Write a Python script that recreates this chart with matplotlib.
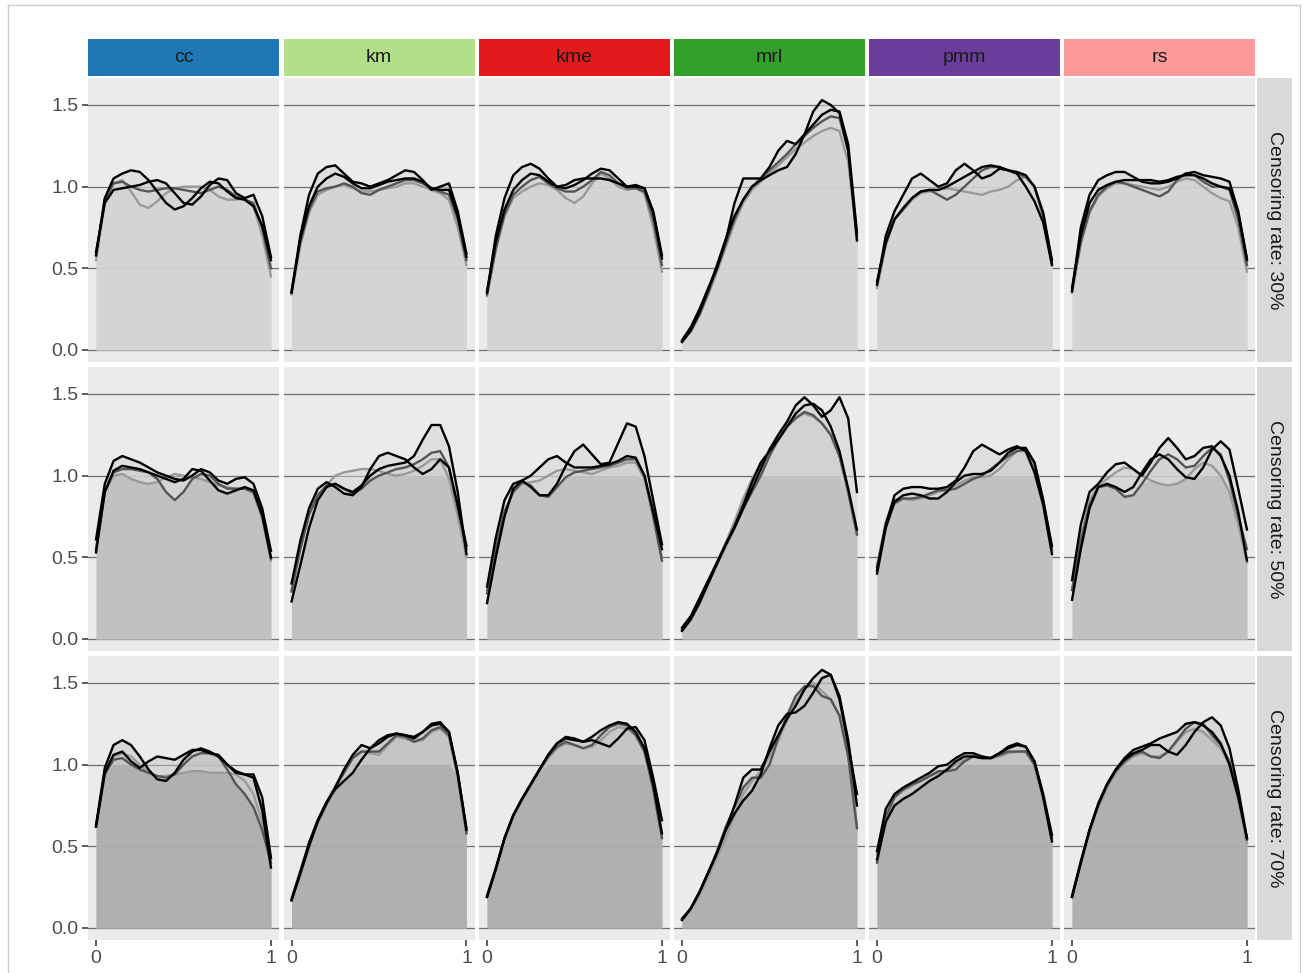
import matplotlib
matplotlib.use("Agg")
import matplotlib.pyplot as plt
from matplotlib.lines import Line2D
from matplotlib.patches import Rectangle
import numpy as np

plt.rcParams['font.family'] = ['Liberation Sans', 'DejaVu Sans']

# x grid where the density curves were read
x_grid = [0.00, 0.05, 0.10, 0.15, 0.20, 0.25, 0.30, 0.35, 0.40, 0.45, 0.50,
          0.55, 0.60, 0.65, 0.70, 0.75, 0.80, 0.85, 0.90, 0.95, 1.00]

methods = ['cc', 'km', 'kme', 'mrl', 'pmm', 'rs']
rates = ['Censoring rate: 30%', 'Censoring rate: 50%', 'Censoring rate: 70%']
strip_colors = ['#1f78b4', '#b2df8a', '#e31a1c', '#33a02c', '#6a3d9a', '#fb9a99']
line_colors = ['#000000', '#000000', '#555555', '#9a9a9a']

# ---- censoring rate 30% ----
cc_30 = [[0.58, 0.93, 1.05, 1.08, 1.10, 1.09, 1.04, 0.97, 0.90, 0.86, 0.88, 0.93, 0.99, 1.03, 1.02, 0.97, 0.93, 0.92, 0.88, 0.76, 0.55],
         [0.60, 0.90, 0.98, 0.99, 1.00, 1.01, 1.03, 1.04, 1.02, 0.96, 0.90, 0.89, 0.94, 1.01, 1.05, 1.04, 0.96, 0.93, 0.95, 0.82, 0.57],
         [0.58, 0.92, 1.02, 1.03, 1.00, 0.98, 0.97, 0.98, 0.99, 0.99, 0.98, 0.97, 0.96, 0.98, 1.00, 0.98, 0.94, 0.92, 0.90, 0.75, 0.50],
         [0.55, 0.90, 1.02, 1.04, 0.97, 0.89, 0.87, 0.91, 0.96, 0.99, 1.00, 1.00, 1.00, 0.98, 0.94, 0.92, 0.92, 0.93, 0.88, 0.70, 0.45]]
km_30 = [[0.35, 0.70, 0.95, 1.08, 1.12, 1.13, 1.08, 1.03, 1.02, 1.00, 1.02, 1.04, 1.07, 1.10, 1.09, 1.04, 0.98, 1.00, 1.02, 0.85, 0.59],
         [0.36, 0.68, 0.88, 1.00, 1.05, 1.08, 1.06, 1.02, 0.99, 0.99, 1.01, 1.03, 1.04, 1.05, 1.05, 1.03, 0.99, 0.98, 0.98, 0.82, 0.57],
         [0.35, 0.66, 0.86, 0.97, 0.99, 1.00, 1.02, 1.00, 0.96, 0.95, 0.98, 1.00, 1.02, 1.04, 1.04, 1.02, 0.99, 0.97, 0.95, 0.80, 0.55],
         [0.34, 0.64, 0.84, 0.95, 0.98, 1.00, 1.01, 0.99, 0.97, 0.97, 0.98, 0.99, 1.00, 1.02, 1.02, 1.00, 0.98, 0.96, 0.92, 0.75, 0.52]]
kme_30 = [[0.35, 0.70, 0.93, 1.07, 1.12, 1.14, 1.11, 1.05, 1.00, 0.99, 1.01, 1.04, 1.08, 1.11, 1.10, 1.05, 1.00, 1.00, 0.99, 0.85, 0.58],
          [0.36, 0.66, 0.86, 0.98, 1.04, 1.08, 1.07, 1.03, 1.00, 1.01, 1.04, 1.05, 1.05, 1.05, 1.04, 1.02, 1.00, 1.01, 0.99, 0.84, 0.56],
          [0.34, 0.62, 0.83, 0.95, 1.00, 1.04, 1.06, 1.02, 0.99, 0.97, 0.97, 1.00, 1.04, 1.09, 1.07, 1.02, 0.99, 0.99, 0.97, 0.80, 0.52],
          [0.33, 0.62, 0.82, 0.93, 0.97, 1.00, 1.02, 1.01, 0.98, 0.93, 0.90, 0.94, 1.02, 1.08, 1.05, 1.00, 0.98, 0.99, 0.96, 0.75, 0.48]]
mrl_30 = [[0.06, 0.14, 0.25, 0.38, 0.50, 0.67, 0.90, 1.05, 1.05, 1.05, 1.12, 1.22, 1.28, 1.26, 1.32, 1.46, 1.53, 1.50, 1.45, 1.22, 0.67],
          [0.05, 0.12, 0.23, 0.37, 0.52, 0.68, 0.82, 0.92, 1.00, 1.04, 1.07, 1.10, 1.12, 1.20, 1.32, 1.38, 1.44, 1.47, 1.46, 1.26, 0.72],
          [0.05, 0.12, 0.22, 0.35, 0.50, 0.65, 0.80, 0.92, 1.00, 1.05, 1.10, 1.15, 1.20, 1.26, 1.31, 1.36, 1.40, 1.43, 1.42, 1.22, 0.70],
          [0.05, 0.11, 0.21, 0.34, 0.48, 0.63, 0.78, 0.90, 0.98, 1.03, 1.08, 1.13, 1.18, 1.23, 1.27, 1.31, 1.34, 1.36, 1.34, 1.15, 0.68]]
pmm_30 = [[0.40, 0.70, 0.85, 0.95, 1.05, 1.08, 1.04, 1.00, 1.02, 1.10, 1.14, 1.10, 1.05, 1.07, 1.11, 1.10, 1.08, 1.00, 0.91, 0.78, 0.52],
          [0.42, 0.66, 0.80, 0.87, 0.93, 0.97, 0.98, 0.98, 1.00, 1.03, 1.06, 1.09, 1.12, 1.13, 1.12, 1.10, 1.09, 1.07, 1.00, 0.84, 0.55],
          [0.40, 0.65, 0.80, 0.86, 0.93, 0.97, 0.98, 0.95, 0.92, 0.95, 1.00, 1.05, 1.10, 1.12, 1.12, 1.10, 1.08, 1.06, 1.00, 0.82, 0.53],
          [0.38, 0.64, 0.80, 0.86, 0.92, 0.96, 0.97, 0.98, 0.99, 0.98, 0.97, 0.96, 0.95, 0.97, 0.98, 1.00, 1.04, 1.06, 1.00, 0.82, 0.52]]
rs_30 = [[0.36, 0.75, 0.95, 1.04, 1.07, 1.09, 1.09, 1.06, 1.03, 1.02, 1.02, 1.03, 1.05, 1.08, 1.09, 1.07, 1.06, 1.05, 1.03, 0.85, 0.56],
         [0.38, 0.70, 0.90, 0.98, 1.01, 1.03, 1.04, 1.04, 1.04, 1.04, 1.03, 1.04, 1.06, 1.07, 1.07, 1.05, 1.02, 1.00, 0.99, 0.84, 0.55],
         [0.36, 0.66, 0.85, 0.95, 1.00, 1.03, 1.02, 1.00, 0.98, 0.96, 0.94, 0.97, 1.04, 1.08, 1.07, 1.03, 1.00, 1.00, 0.98, 0.80, 0.52],
         [0.35, 0.65, 0.84, 0.94, 0.99, 1.02, 1.02, 1.01, 1.00, 0.99, 0.98, 1.00, 1.03, 1.05, 1.04, 1.00, 0.96, 0.93, 0.91, 0.75, 0.48]]

# ---- censoring rate 50% ----
cc_50 = [[0.61, 0.95, 1.09, 1.12, 1.10, 1.08, 1.05, 1.02, 1.00, 0.98, 0.97, 1.00, 1.04, 1.02, 0.97, 0.95, 0.98, 0.99, 0.95, 0.80, 0.54],
         [0.53, 0.90, 1.03, 1.06, 1.05, 1.04, 1.02, 1.00, 0.98, 0.96, 0.98, 1.04, 1.03, 0.97, 0.91, 0.89, 0.91, 0.93, 0.91, 0.76, 0.50],
         [0.55, 0.90, 1.02, 1.04, 1.04, 1.03, 1.02, 0.98, 0.90, 0.85, 0.90, 0.98, 1.01, 1.00, 0.95, 0.92, 0.92, 0.92, 0.90, 0.75, 0.49],
         [0.55, 0.90, 1.00, 1.01, 0.98, 0.96, 0.95, 0.96, 0.99, 1.01, 1.00, 0.99, 0.98, 0.96, 0.94, 0.93, 0.92, 0.92, 0.89, 0.74, 0.48]]
km_50 = [[0.23, 0.45, 0.68, 0.85, 0.93, 0.95, 0.92, 0.90, 0.94, 1.00, 1.04, 1.06, 1.07, 1.08, 1.12, 1.22, 1.31, 1.31, 1.18, 0.90, 0.52],
         [0.34, 0.60, 0.80, 0.92, 0.96, 0.93, 0.89, 0.88, 0.93, 1.04, 1.12, 1.14, 1.12, 1.10, 1.05, 1.01, 1.04, 1.10, 1.05, 0.82, 0.57],
         [0.29, 0.55, 0.76, 0.88, 0.94, 0.95, 0.92, 0.89, 0.92, 0.97, 1.00, 1.02, 1.04, 1.05, 1.07, 1.10, 1.14, 1.15, 1.05, 0.80, 0.55],
         [0.30, 0.55, 0.77, 0.88, 0.94, 1.00, 1.02, 1.03, 1.04, 1.04, 1.03, 1.01, 1.00, 1.01, 1.03, 1.06, 1.10, 1.10, 0.98, 0.75, 0.50]]
kme_50 = [[0.22, 0.50, 0.75, 0.92, 0.97, 0.93, 0.88, 0.88, 0.95, 1.06, 1.15, 1.19, 1.13, 1.07, 1.08, 1.20, 1.32, 1.30, 1.12, 0.85, 0.58],
          [0.32, 0.62, 0.85, 0.95, 0.97, 1.00, 1.05, 1.10, 1.12, 1.08, 1.05, 1.05, 1.05, 1.06, 1.07, 1.09, 1.12, 1.11, 1.00, 0.78, 0.55],
          [0.28, 0.55, 0.78, 0.90, 0.96, 0.94, 0.88, 0.87, 0.93, 0.99, 1.02, 1.03, 1.04, 1.05, 1.06, 1.08, 1.10, 1.10, 1.00, 0.75, 0.48],
          [0.30, 0.56, 0.78, 0.90, 0.95, 0.96, 0.97, 1.00, 1.03, 1.04, 1.03, 1.02, 1.01, 1.03, 1.05, 1.06, 1.08, 1.08, 0.98, 0.75, 0.50]]
mrl_50 = [[0.07, 0.14, 0.25, 0.36, 0.47, 0.58, 0.68, 0.80, 0.92, 1.04, 1.16, 1.25, 1.33, 1.43, 1.48, 1.43, 1.36, 1.40, 1.48, 1.35, 0.90],
          [0.05, 0.12, 0.22, 0.34, 0.46, 0.58, 0.69, 0.82, 0.96, 1.08, 1.15, 1.22, 1.30, 1.38, 1.43, 1.44, 1.40, 1.30, 1.15, 0.92, 0.67],
          [0.06, 0.13, 0.24, 0.35, 0.46, 0.57, 0.68, 0.80, 0.90, 1.00, 1.12, 1.22, 1.30, 1.35, 1.39, 1.37, 1.32, 1.25, 1.12, 0.90, 0.64],
          [0.05, 0.12, 0.23, 0.35, 0.47, 0.59, 0.72, 0.86, 0.98, 1.07, 1.14, 1.22, 1.30, 1.36, 1.38, 1.36, 1.32, 1.25, 1.12, 0.90, 0.64]]
pmm_50 = [[0.42, 0.70, 0.88, 0.92, 0.93, 0.93, 0.92, 0.92, 0.93, 0.97, 1.05, 1.15, 1.19, 1.16, 1.13, 1.16, 1.18, 1.15, 1.02, 0.82, 0.52],
          [0.40, 0.68, 0.84, 0.88, 0.89, 0.88, 0.86, 0.86, 0.90, 0.96, 1.00, 1.01, 1.01, 1.03, 1.08, 1.14, 1.17, 1.17, 1.08, 0.85, 0.57],
          [0.44, 0.70, 0.83, 0.86, 0.86, 0.87, 0.89, 0.91, 0.91, 0.92, 0.95, 0.98, 1.00, 1.04, 1.08, 1.12, 1.15, 1.16, 1.08, 0.85, 0.55],
          [0.45, 0.72, 0.85, 0.86, 0.85, 0.86, 0.88, 0.90, 0.92, 0.94, 0.97, 0.99, 0.99, 1.00, 1.04, 1.10, 1.15, 1.15, 1.06, 0.82, 0.53]]
rs_50 = [[0.24, 0.55, 0.80, 0.93, 0.95, 0.93, 0.90, 0.93, 1.02, 1.10, 1.13, 1.10, 1.04, 0.99, 0.98, 1.05, 1.16, 1.21, 1.16, 0.92, 0.67],
         [0.36, 0.70, 0.90, 0.95, 1.02, 1.07, 1.08, 1.04, 1.00, 1.08, 1.17, 1.23, 1.17, 1.10, 1.12, 1.17, 1.18, 1.12, 1.00, 0.78, 0.48],
         [0.30, 0.60, 0.82, 0.93, 0.94, 0.92, 0.87, 0.88, 0.95, 1.03, 1.10, 1.13, 1.10, 1.05, 1.06, 1.12, 1.17, 1.13, 0.97, 0.75, 0.55],
         [0.30, 0.62, 0.85, 0.94, 0.98, 1.02, 1.05, 1.04, 1.00, 0.97, 0.95, 0.94, 0.95, 0.98, 1.04, 1.08, 1.06, 1.00, 0.90, 0.70, 0.47]]

# ---- censoring rate 70% ----
cc_70 = [[0.63, 0.98, 1.12, 1.15, 1.12, 1.05, 0.97, 0.91, 0.90, 0.95, 1.03, 1.08, 1.10, 1.08, 1.05, 1.00, 0.96, 0.94, 0.92, 0.72, 0.37],
         [0.62, 0.95, 1.06, 1.08, 1.02, 0.98, 1.02, 1.05, 1.04, 1.03, 1.06, 1.09, 1.09, 1.07, 1.06, 1.00, 0.95, 0.94, 0.94, 0.80, 0.43],
         [0.62, 0.94, 1.03, 1.04, 1.00, 0.97, 0.95, 0.93, 0.92, 0.94, 1.00, 1.05, 1.07, 1.07, 1.05, 0.97, 0.88, 0.82, 0.74, 0.60, 0.40],
         [0.62, 0.95, 1.05, 1.07, 1.05, 1.00, 0.95, 0.93, 0.93, 0.94, 0.95, 0.96, 0.96, 0.95, 0.95, 0.95, 0.94, 0.90, 0.82, 0.65, 0.42]]
km_70 = [[0.17, 0.33, 0.50, 0.65, 0.76, 0.86, 0.97, 1.06, 1.12, 1.10, 1.13, 1.17, 1.19, 1.18, 1.16, 1.20, 1.25, 1.26, 1.20, 0.95, 0.61],
         [0.17, 0.34, 0.52, 0.66, 0.77, 0.85, 0.90, 0.95, 1.03, 1.10, 1.15, 1.18, 1.19, 1.18, 1.17, 1.20, 1.24, 1.25, 1.20, 0.95, 0.60],
         [0.18, 0.35, 0.52, 0.66, 0.77, 0.86, 0.95, 1.04, 1.08, 1.08, 1.08, 1.13, 1.18, 1.17, 1.14, 1.16, 1.21, 1.23, 1.18, 0.93, 0.58],
         [0.17, 0.34, 0.51, 0.66, 0.77, 0.87, 0.96, 1.05, 1.08, 1.07, 1.06, 1.12, 1.17, 1.16, 1.14, 1.15, 1.20, 1.22, 1.17, 0.93, 0.58]]
kme_70 = [[0.19, 0.36, 0.55, 0.69, 0.79, 0.88, 0.97, 1.06, 1.13, 1.17, 1.16, 1.14, 1.15, 1.13, 1.11, 1.16, 1.22, 1.23, 1.15, 0.92, 0.66],
          [0.19, 0.36, 0.55, 0.69, 0.79, 0.88, 0.97, 1.06, 1.13, 1.16, 1.15, 1.14, 1.17, 1.21, 1.24, 1.26, 1.25, 1.20, 1.10, 0.88, 0.58],
          [0.20, 0.37, 0.55, 0.69, 0.79, 0.88, 0.97, 1.05, 1.11, 1.14, 1.12, 1.10, 1.12, 1.18, 1.23, 1.25, 1.24, 1.18, 1.08, 0.85, 0.55],
          [0.19, 0.36, 0.54, 0.68, 0.78, 0.87, 0.96, 1.04, 1.10, 1.13, 1.12, 1.10, 1.11, 1.15, 1.20, 1.23, 1.22, 1.18, 1.08, 0.85, 0.56]]
mrl_70 = [[0.05, 0.12, 0.22, 0.34, 0.46, 0.60, 0.75, 0.92, 0.97, 0.97, 1.08, 1.18, 1.28, 1.36, 1.46, 1.53, 1.58, 1.55, 1.40, 1.12, 0.82],
          [0.05, 0.12, 0.22, 0.34, 0.46, 0.60, 0.70, 0.78, 0.84, 0.94, 1.10, 1.24, 1.31, 1.32, 1.36, 1.44, 1.53, 1.55, 1.42, 1.15, 0.75],
          [0.06, 0.12, 0.22, 0.34, 0.47, 0.62, 0.74, 0.86, 0.92, 0.92, 1.00, 1.16, 1.30, 1.42, 1.48, 1.48, 1.42, 1.40, 1.30, 1.05, 0.61],
          [0.05, 0.11, 0.20, 0.31, 0.43, 0.55, 0.69, 0.82, 0.90, 0.96, 1.05, 1.15, 1.27, 1.38, 1.47, 1.50, 1.45, 1.40, 1.30, 1.05, 0.62]]
pmm_70 = [[0.47, 0.73, 0.82, 0.86, 0.89, 0.92, 0.95, 0.99, 1.00, 1.04, 1.07, 1.07, 1.05, 1.04, 1.07, 1.11, 1.13, 1.11, 1.02, 0.80, 0.53],
          [0.42, 0.65, 0.75, 0.79, 0.82, 0.86, 0.90, 0.93, 0.97, 1.02, 1.05, 1.05, 1.04, 1.04, 1.07, 1.10, 1.12, 1.11, 1.02, 0.82, 0.57],
          [0.40, 0.68, 0.80, 0.85, 0.88, 0.90, 0.93, 0.96, 0.96, 0.97, 1.02, 1.05, 1.04, 1.04, 1.06, 1.08, 1.08, 1.08, 1.00, 0.80, 0.55],
          [0.45, 0.70, 0.80, 0.84, 0.87, 0.90, 0.93, 0.95, 0.97, 1.00, 1.03, 1.05, 1.05, 1.04, 1.05, 1.07, 1.08, 1.08, 1.00, 0.80, 0.53]]
rs_70 = [[0.19, 0.40, 0.60, 0.76, 0.88, 0.97, 1.03, 1.07, 1.09, 1.12, 1.12, 1.08, 1.06, 1.12, 1.20, 1.26, 1.29, 1.24, 1.10, 0.85, 0.55],
         [0.19, 0.40, 0.60, 0.76, 0.88, 0.97, 1.04, 1.09, 1.11, 1.13, 1.16, 1.18, 1.20, 1.25, 1.26, 1.24, 1.20, 1.13, 1.00, 0.80, 0.55],
         [0.20, 0.41, 0.60, 0.75, 0.87, 0.96, 1.02, 1.06, 1.08, 1.05, 1.04, 1.08, 1.15, 1.22, 1.26, 1.25, 1.18, 1.12, 1.02, 0.82, 0.54],
         [0.19, 0.39, 0.58, 0.74, 0.86, 0.95, 1.01, 1.05, 1.07, 1.05, 1.05, 1.08, 1.14, 1.20, 1.22, 1.20, 1.15, 1.10, 1.00, 0.78, 0.52]]

panels = [[cc_30, km_30, kme_30, mrl_30, pmm_30, rs_30],
          [cc_50, km_50, kme_50, mrl_50, pmm_50, rs_50],
          [cc_70, km_70, kme_70, mrl_70, pmm_70, rs_70]]

# fill shade per censoring row
fill_colors = ['#d4d4d4', '#d2d2d2', '#c4c4c4']
base_alpha = [0.0, 0.08, 0.1]

W, H = 1304, 973
fig = plt.figure(figsize=(W / 100, H / 100), dpi=100)


def fx(px):
    return px / W


def fy(py):
    return 1 - py / H


col_left = [88, 283.5, 479, 674, 869, 1064]
col_w = 191
row_top = [78, 367, 656]
row_h = 284
x = np.array(x_grid)

for r in range(3):
    for c in range(6):
        ax = fig.add_axes([fx(col_left[c]), fy(row_top[r] + row_h), col_w / W, row_h / H])
        ax.set_facecolor('#ebebeb')
        for s in ax.spines.values():
            s.set_visible(False)
        ax.set_xlim(-0.046, 1.046)
        ax.set_ylim(-0.0735, 1.665)
        for g in [0, 0.5, 1.0, 1.5]:
            ax.axhline(g, color='#6e6e6e', lw=0.9, zorder=1)

        curves = np.array(panels[r][c])
        for k in range(3, -1, -1):
            ax.fill_between(x, 0, curves[k], color=fill_colors[r], alpha=0.5, lw=0, zorder=2)
        if base_alpha[r] > 0:
            base = np.minimum(1.0, curves.min(axis=0))
            ax.fill_between(x, 0, base, color='black', alpha=base_alpha[r], lw=0, zorder=2)
        for k in range(3, -1, -1):
            ax.plot(x, curves[k], color=line_colors[k], lw=1.7, zorder=3)

        ax.tick_params(colors='#333333', labelcolor='#4d4d4d', labelsize=14,
                       length=4, width=1.1, pad=3)
        if c == 0:
            ax.set_yticks([0, 0.5, 1.0, 1.5])
            ax.set_yticklabels(['0.0', '0.5', '1.0', '1.5'])
        else:
            ax.set_yticks([])
        if r == 2:
            ax.set_xticks([0, 1])
            ax.set_xticklabels(['0', '1'])
        else:
            ax.set_xticks([])

# column strips
for c in range(6):
    fig.add_artist(Rectangle((fx(col_left[c]), fy(76)), col_w / W, 37 / H,
                             transform=fig.transFigure, facecolor=strip_colors[c],
                             edgecolor='none'))
    fig.text(fx(col_left[c] + col_w / 2), fy(58), methods[c], ha='center', va='center',
             fontsize=14, color='#1a1a1a')

# row strips
for r in range(3):
    fig.add_artist(Rectangle((fx(1257), fy(row_top[r] + row_h)), 35 / W, row_h / H,
                             transform=fig.transFigure, facecolor='#d9d9d9',
                             edgecolor='none'))
    fig.text(fx(1274.5), fy(row_top[r] + row_h / 2), rates[r], ha='center', va='center',
             rotation=270, fontsize=14, color='#1a1a1a')

# thin frame around the figure
frame = '#cccccc'
fig.add_artist(Line2D([fx(8), fx(8)], [0, fy(5)], color=frame, lw=1, transform=fig.transFigure))
fig.add_artist(Line2D([fx(8), fx(1300)], [fy(5), fy(5)], color=frame, lw=1, transform=fig.transFigure))
fig.add_artist(Line2D([fx(1300), fx(1300)], [0, fy(5)], color=frame, lw=1, transform=fig.transFigure))

fig.savefig('out.png', dpi=100)
